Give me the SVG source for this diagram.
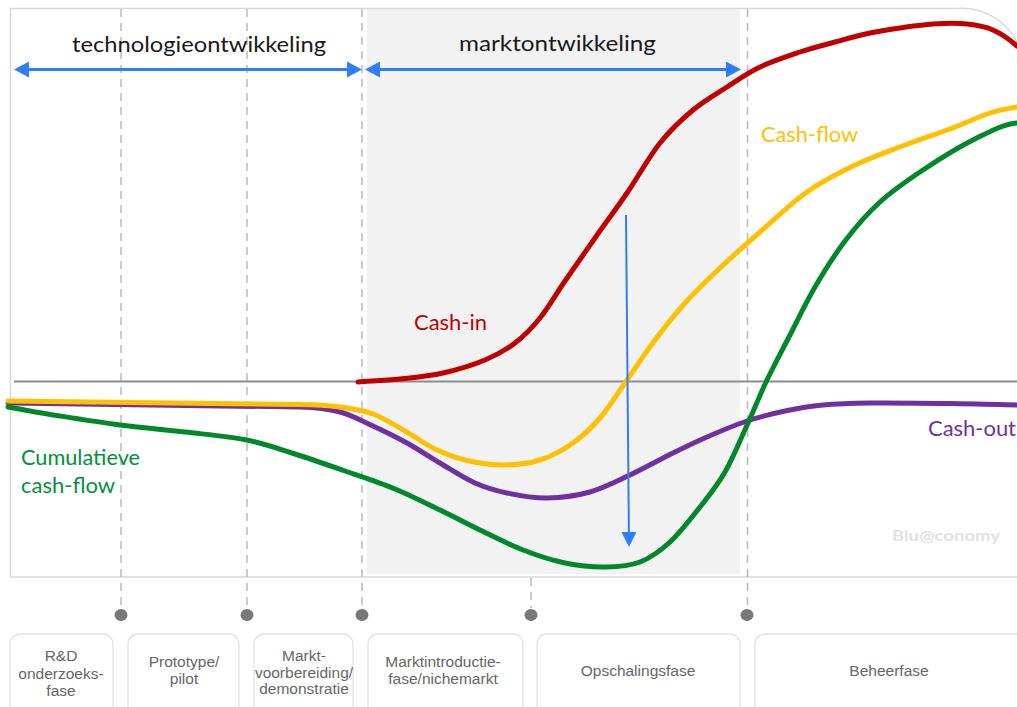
<svg xmlns="http://www.w3.org/2000/svg" width="1017" height="707" viewBox="0 0 1017 707">
<style>
.frame{fill:none;stroke:#d9d9d9;stroke-width:1.5}
.grid{stroke:#bdbdbd;stroke-width:1.6;stroke-dasharray:8 6;fill:none}
.axis{stroke:#8c8c8c;stroke-width:2;fill:none}
.curve{fill:none;stroke-width:5;stroke-linecap:round;stroke-linejoin:round}
.lbl{font-family:Lato,"Liberation Sans",sans-serif;font-size:21px}
.head{font-family:Lato,"Liberation Sans",sans-serif;font-size:22px;fill:#1a1a1a}
.box{fill:#fff;stroke:#e2e2e2;stroke-width:1.3}
.bt{font-family:"Liberation Sans",Arial,sans-serif;font-size:15.5px;fill:#666;text-anchor:middle}
.dot{fill:#787878}
.arr{stroke:#2f7ef7;fill:none}
</style>
<defs>
<marker id="ah" viewBox="0 0 15 16" refX="5" refY="8" markerWidth="15" markerHeight="16" markerUnits="userSpaceOnUse" orient="auto-start-reverse">
<path d="M0,0 L15,8 L0,16 z" fill="#2f7ef7"/>
</marker>
<marker id="ah2" viewBox="0 0 15 15" refX="0" refY="7.5" markerWidth="15" markerHeight="15" markerUnits="userSpaceOnUse" orient="auto">
<path d="M0,0 L15,7.5 L0,15 z" fill="#2f7ef7"/>
</marker>
</defs>
<rect width="1017" height="707" fill="#fff"/>
<g id="chart-frame">
<rect x="367" y="9" width="373" height="565" fill="#f2f2f2"/>
<path class="frame" d="M1017,577 H10.5 V8.5 H958 A62 62 0 0 1 1017,42"/>
</g>
<g id="gridlines">
<line class="grid" x1="121" y1="9" x2="121" y2="608"/>
<line class="grid" x1="247" y1="9" x2="247" y2="608"/>
<line class="grid" x1="362" y1="9" x2="362" y2="608"/>
<line class="grid" x1="531" y1="578" x2="531" y2="608"/>
<line class="grid" x1="747.5" y1="9" x2="747.5" y2="608"/>
<line class="axis" x1="14" y1="381.5" x2="1017" y2="381.5"/>
</g>
<g id="curves">
<path id="cash-in" class="curve" stroke="#c00000" d="M358,382 C372,381 385.8,380.5 400,379 S428.8,376.2 443,373 S473,365 485,360 S505.8,350 515,343 S531.7,328.3 540,318 S555.8,294.3 565,281 S584.7,252.7 595,238 S616.2,208.8 627,193 S649,156.8 660,143 S681.8,119.3 693,110 S715.8,94.2 727,87 S747.8,72.8 760,67 S787.5,56.2 800,52 S823.3,45.2 835,42 S859.2,35.3 870,33 S889.5,29.5 900,28 S921.8,24.7 933,24 S957,23 967,24 S984.7,26.3 993,30 S1009,39 1017,46"/>
<path id="cash-out" class="curve" stroke="#7030a0" d="M8,403 L300,407 C313,407.3 327.8,408.8 340,412 S361.8,420.8 373,426 S395.8,436.8 407,443 S428.7,456.3 440,463 S463.8,478 475,483 S495,490.5 507,493 S533.2,498.2 547,498 S576.2,495.8 590,492 S616.2,481.5 630,475 S660.2,459.3 673,453 S694.7,442.3 707,437 S734,425.3 747,421 S772.3,413.7 785,411 S808.8,406.3 823,405 S848.8,403.3 870,403 S925.5,403.2 950,403.5 S1005.8,404.8 1017,405"/>
<path id="cash-flow" class="curve" stroke="#ffc000" d="M8,401 L300,404.5 C313,404.7 327.8,405.4 340,407 S362.2,410 373,414 S394.7,425.2 405,431 S425,444.2 435,449 S453.7,457.3 465,460 S490.5,465 503,465 S528.3,463.7 540,460 S563,450 573,443 S591,428.5 600,418 S617.8,393 627,380 S645.3,352.8 655,340 S674.2,315 685,303 S707.5,279.8 720,268 S745.5,244.7 760,232 S791.2,203.2 807,192 S838.7,172.8 855,165 S889.2,151 905,145 S935.8,134.3 950,129 S978.8,116.7 990,113 S1012.5,108 1017,107"/>
<path id="cumulatieve-cash-flow" class="curve" stroke="#00882a" d="M8,407 C25.3,410 41.3,413 60,416 S99.2,422.3 120,425 S163.8,429.5 185,432 S228.7,436.3 247,440 S278.7,448.8 295,454 S328.3,465.2 345,471 S379.2,482.5 395,489 S425.8,503.2 440,510 S466.2,523.3 480,530 S508.8,544.5 523,550 S551.3,560.2 565,563 S592.5,567.2 605,567 S629.2,566.2 640,562 S660,551.2 670,542 S690.8,518.7 700,507 S717,486 725,472 S741,438.3 748,423 S760,394.7 767,380 S782,350.5 790,335 S805.8,302.7 815,287 S834.2,255.2 845,241 S867,213.8 880,202 S907.5,180.3 923,170 S957.3,147.8 973,140 S1003,124 1017,123"/>
</g>
<g id="labels">
<text class="head" x="72" y="52" textLength="254" lengthAdjust="spacingAndGlyphs">technologieontwikkeling</text>
<text class="head" x="459" y="51" textLength="197" lengthAdjust="spacingAndGlyphs">marktontwikkeling</text>
<text class="lbl" x="414" y="330" fill="#c00000" textLength="73" lengthAdjust="spacingAndGlyphs">Cash-in</text>
<text class="lbl" x="761" y="142" fill="#ffc000" textLength="97" lengthAdjust="spacingAndGlyphs">Cash-flow</text>
<text class="lbl" x="21" y="465" fill="#00913a" textLength="119" lengthAdjust="spacingAndGlyphs">Cumulatieve</text>
<text class="lbl" x="21" y="493" fill="#00913a" textLength="94" lengthAdjust="spacingAndGlyphs">cash-flow</text>
<text class="lbl" x="928" y="436" fill="#7030a0" textLength="88" lengthAdjust="spacingAndGlyphs">Cash-out</text>
<text x="892" y="541" font-family="Lato,'Liberation Sans',sans-serif" font-size="16" font-weight="bold" fill="#e2e2e2" textLength="108" lengthAdjust="spacingAndGlyphs">Blu@conomy</text>
</g>
<g id="connectors">
<line class="arr" stroke-width="3" x1="24" y1="69.5" x2="352" y2="69.5" marker-start="url(#ah)" marker-end="url(#ah)"/>
<line class="arr" stroke-width="3" x1="375" y1="69.5" x2="731" y2="69.5" marker-start="url(#ah)" marker-end="url(#ah)"/>
<line class="arr" stroke-width="2" x1="626" y1="215" x2="628.9" y2="532" marker-end="url(#ah2)"/>
</g>
<g id="phase-rd">
<ellipse class="dot" cx="121" cy="615" rx="6.5" ry="6"/>
<rect class="box" x="10" y="634" width="103" height="100" rx="10"/>
<text class="bt" x="61" y="661">R&amp;D</text>
<text class="bt" x="61" y="679">onderzoeks-</text>
<text class="bt" x="61" y="696">fase</text>
</g>
<g id="phase-prototype">
<ellipse class="dot" cx="247" cy="615" rx="6.5" ry="6"/>
<rect class="box" x="128" y="634" width="111" height="100" rx="10"/>
<text class="bt" x="184" y="667">Prototype/</text>
<text class="bt" x="184" y="684">pilot</text>
</g>
<g id="phase-marktvoorbereiding">
<ellipse class="dot" cx="362" cy="615" rx="6.5" ry="6"/>
<rect class="box" x="254" y="634" width="99" height="100" rx="10"/>
<text class="bt" x="304" y="661">Markt-</text>
<text class="bt" x="304" y="678">voorbereiding/</text>
<text class="bt" x="304" y="694">demonstratie</text>
</g>
<g id="phase-marktintroductie">
<ellipse class="dot" cx="531" cy="615" rx="6.5" ry="6"/>
<rect class="box" x="368" y="634" width="155" height="100" rx="10"/>
<text class="bt" x="443" y="667">Marktintroductie-</text>
<text class="bt" x="443" y="684">fase/nichemarkt</text>
</g>
<g id="phase-opschaling">
<ellipse class="dot" cx="747" cy="615" rx="6.5" ry="6"/>
<rect class="box" x="537" y="634" width="203" height="100" rx="10"/>
<text class="bt" x="638" y="676">Opschalingsfase</text>
</g>
<g id="phase-beheer">
<rect class="box" x="755" y="634" width="290" height="100" rx="10"/>
<text class="bt" x="889" y="676">Beheerfase</text>
</g>
</svg>
